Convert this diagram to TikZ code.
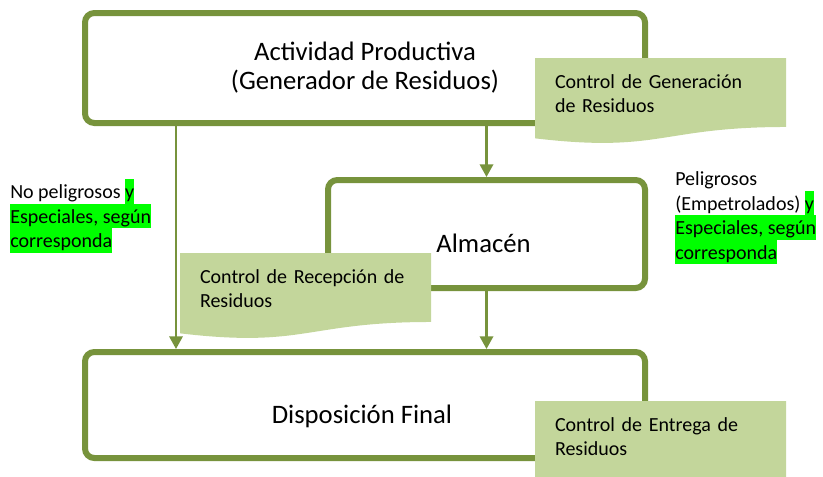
\documentclass[tikz,border=0pt]{standalone}
\usepackage{fontspec}
\setmainfont{Carlito}
\usepackage{tikz}
\usetikzlibrary{
    positioning,
    arrows.meta,
    calc
}
\usepackage{xcolor}
\definecolor{boxgreen}{HTML}{77933C}
\definecolor{ctrlfill}{HTML}{C3D69B}
\definecolor{hlgreen}{HTML}{00FF00}
\newcommand{\hlstrut}{\rule[-4pt]{0pt}{18.4pt}}
\newcommand{\hlt}[1]{{\setlength{\fboxsep}{0pt}\colorbox{hlgreen}{\hlstrut #1}}}

\begin{document}
\begin{tikzpicture}[
    x=0.75pt, y=-0.75pt,
    bigbox/.style={
        rectangle,
        draw=boxgreen,
        line width=4.5pt,
        rounded corners=7pt,
        align=center,
        font=\fontsize{20}{21.75}\selectfont
    },
    ctrl/.style={
        rectangle,
        anchor=north west,
        outer sep=0pt,
        inner xsep=15pt,
        minimum height=64.5pt,
        text width=158.25pt,
        align=left,
        text height=0pt,
        text depth=19.5pt,
        font=\fontsize{15}{18.4}\selectfont,
        path picture={
            \path (path picture bounding box.north west) coordinate (pnw)
                  (path picture bounding box.south east) coordinate (pse);
            \fill[ctrlfill] (pnw) -- (pnw -| pse) -- ($(pnw -| pse)!0.802!(pse)$)
                .. controls ($($(pnw)!0.5!(pnw -| pse)$)!0.802!($(pse -| pnw)!0.5!(pse)$)$)
                and ($($(pnw)!0.5!(pnw -| pse)$)!1.107!($(pse -| pnw)!0.5!(pse)$)$)
                .. ($(pnw)!0.934!(pse -| pnw)$) -- cycle;
        }
    },
    note/.style={
        anchor=north west,
        inner sep=0pt,
        align=left,
        font=\fontsize{15}{18.4}\selectfont
    },
    arrow/.style={-{Triangle[length=9.5pt,width=10pt]}, line width=1.75pt, draw=boxgreen}
]
\clip (0,0) rectangle (823,476);

% Main boxes
\node[bigbox, minimum width=420pt, minimum height=82.5pt] (gen) at (365,68) {
    Actividad Productiva\\(Generador de Residuos)
};

\node[bigbox, minimum width=237.75pt, minimum height=81pt, text height=27pt, text depth=0pt] (alm) at (486.5,234) {
    Almacén
};

\node[bigbox, minimum width=420pt, minimum height=79.5pt, text height=27pt, text depth=0pt] (disp) at (365,405) {
    Disposición Final
};

% Arrows between boxes
\coordinate (lft) at (176,0);
\draw[arrow] (gen.south -| lft) -- (disp.north -| lft);
\draw[arrow] (gen.south -| alm.north) -- (alm.north);
\draw[arrow] (alm.south) -- (alm.south |- disp.north);

% Control notes
\node[ctrl] (cgen) at (535,58) {Control de Generación\\de Residuos};
\node[ctrl] (crec) at (180,253) {Control de Recepción de\\Residuos};
\node[ctrl, minimum height=75pt, text depth=30pt] (cent) at (535,401) {Control de Entrega de\\Residuos};

% Side annotations
\node[note] (nopel) at (10,179) {No peligrosos \hlt{y}\\\hlt{Especiales, según}\\\hlt{corresponda}};
\node[note] (pel) at (675,166) {\hlstrut Peligrosos\\(Empetrolados) \hlt{y}\\\hlt{Especiales, según}\\\hlt{corresponda}};

\end{tikzpicture}
\end{document}
